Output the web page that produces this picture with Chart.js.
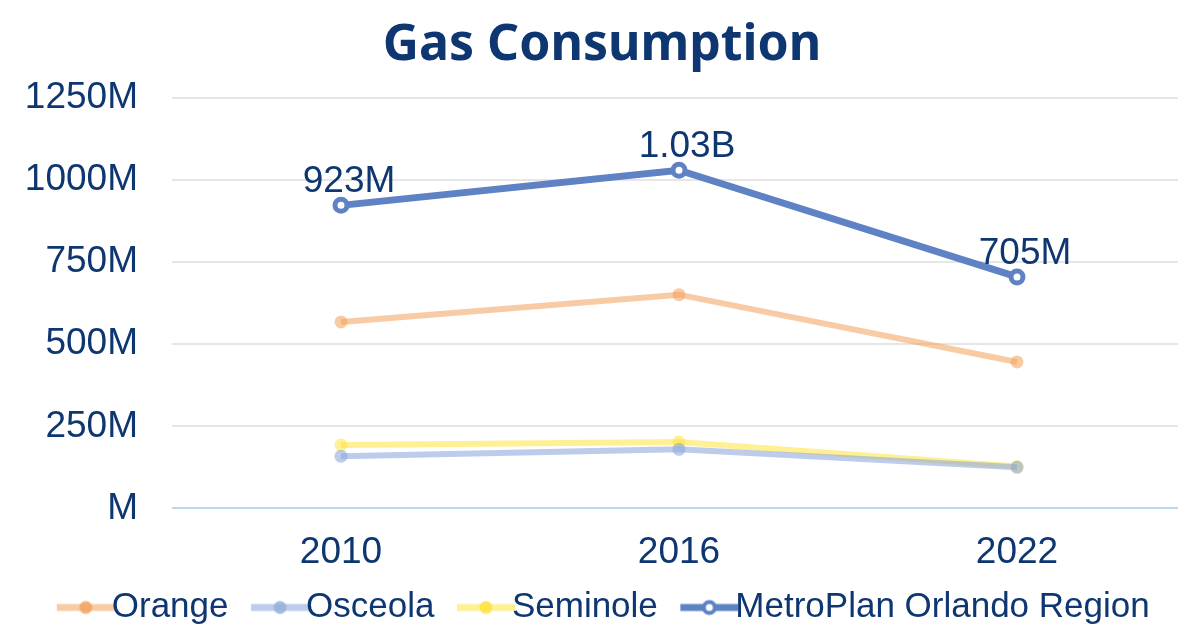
<!DOCTYPE html>
<html>
<head>
<meta charset="utf-8">
<script src="https://cdn.jsdelivr.net/npm/chart.js@4/dist/chart.umd.min.js"></script>
<style>
    html, body { margin: 0; padding: 0; background: #fff; overflow: hidden; }
    #wrap { width: 1197px; height: 642px; }
</style>
</head>
<body>
<div id="wrap"><canvas id="grafico"></canvas></div>
<script>
// valores em milhoes
const years = ["2010", "2016", "2022"];
const orange = [568, 651, 446];
const osceola = [159, 180, 125];
const seminole = [193, 202, 128];
const metroplan = [923, 1030, 705];
const yTicks = [0, 250, 500, 750, 1000, 1250];

const navy = "#0e3670";
const tickFont = "'Liberation Sans', Arial, sans-serif";

// icone da legenda: linha com bolinha (desenhado no lado direito da imagem)
function legendIcon(lineColor, dotColor, hollow) {
    let c = document.createElement("canvas");
    c.width = 81;
    c.height = 20;
    let ctx = c.getContext("2d");
    ctx.strokeStyle = lineColor;
    ctx.lineWidth = 7;
    ctx.beginPath();
    ctx.moveTo(23, 10);
    ctx.lineTo(81, 10);
    ctx.stroke();
    ctx.beginPath();
    ctx.arc(52, 10, hollow ? 5.5 : 6.5, 0, Math.PI * 2);
    if (hollow) {
        ctx.fillStyle = "#fff";
        ctx.fill();
        ctx.lineWidth = 4;
        ctx.strokeStyle = dotColor;
        ctx.stroke();
    } else {
        ctx.fillStyle = dotColor;
        ctx.fill();
    }
    return c;
}

const colors = {
    orange: "rgba(244,160,90,0.55)",
    osceola: "rgba(143,170,220,0.6)",
    seminole: "rgba(255,228,60,0.55)",
    metro: "#5f82c4"
};

const icons = [
    legendIcon(colors.orange, "rgba(240,165,100,0.85)", false),
    legendIcon(colors.osceola, "rgba(150,175,222,0.85)", false),
    legendIcon(colors.seminole, "rgba(255,225,60,0.85)", false),
    legendIcon(colors.metro, colors.metro, true)
];

function fmtValue(v) {
    return v >= 1000 ? (v / 1000).toFixed(2) + "B" : v + "M";
}

// rotulos so da serie MetroPlan
const rotulos = {
    id: "rotulos",
    afterDatasetsDraw(chart) {
        let meta = chart.getDatasetMeta(3);
        let ctx = chart.ctx;
        ctx.save();
        ctx.font = "37px " + tickFont;
        ctx.fillStyle = navy;
        ctx.textAlign = "center";
        ctx.textBaseline = "alphabetic";
        meta.data.forEach((pt, i) => {
            ctx.fillText(fmtValue(metroplan[i]), pt.x + 8, pt.y - 13);
        });
        ctx.restore();
    }
};

new Chart(document.getElementById("grafico"), {
    type: "line",
    data: {
        labels: years,
        datasets: [
            {
                label: "Orange",
                data: orange,
                borderColor: colors.orange,
                backgroundColor: colors.orange,
                borderWidth: 6,
                pointRadius: 6.5,
                pointBorderWidth: 0
            },
            {
                label: "Osceola",
                data: osceola,
                borderColor: colors.osceola,
                backgroundColor: colors.osceola,
                borderWidth: 6,
                pointRadius: 6.5,
                pointBorderWidth: 0
            },
            {
                label: "Seminole",
                data: seminole,
                borderColor: colors.seminole,
                backgroundColor: colors.seminole,
                borderWidth: 6,
                pointRadius: 6.5,
                pointBorderWidth: 0
            },
            {
                label: "MetroPlan Orlando Region",
                data: metroplan,
                borderColor: colors.metro,
                backgroundColor: "#fff",
                borderWidth: 7,
                pointRadius: 6,
                pointBorderWidth: 5
            }
        ]
    },
    options: {
        responsive: true,
        maintainAspectRatio: false,
        animation: false,
        layout: { padding: { left: 8, right: 1, top: 0, bottom: 7 } },
        plugins: {
            title: {
                display: true,
                text: "Gas Consumption",
                color: navy,
                font: { family: "'Noto Sans', sans-serif", size: 50, weight: "bold", lineHeight: 1.2 },
                padding: { top: 16, bottom: 22 }
            },
            legend: {
                display: true,
                position: "bottom",
                labels: {
                    color: navy,
                    font: { family: tickFont, size: 35 },
                    usePointStyle: true,
                    pointStyleWidth: 40,
                    padding: 20,
                    generateLabels(chart) {
                        let items = Chart.defaults.plugins.legend.labels.generateLabels(chart);
                        items.forEach((it) => { it.pointStyle = icons[it.datasetIndex]; });
                        return items;
                    }
                }
            },
            tooltip: { enabled: false }
        },
        scales: {
            x: {
                offset: true,
                grid: { display: false, tickLength: 28 },
                border: { display: false },
                ticks: {
                    color: navy,
                    font: { family: tickFont, size: 37, lineHeight: 0.8 },
                    padding: 2
                }
            },
            y: {
                min: 0,
                max: 1250,
                afterBuildTicks(axis) {
                    axis.ticks = yTicks.map((v) => ({ value: v }));
                },
                afterFit(axis) {
                    axis.width = 164;
                },
                border: { display: false },
                grid: {
                    drawTicks: false,
                    lineWidth: 2,
                    color: (c) => (c.tick && c.tick.value === 0 ? "#bdd7f0" : "#e6e6e6")
                },
                ticks: {
                    color: navy,
                    font: { family: tickFont, size: 37 },
                    padding: 34,
                    callback: (v) => (v === 0 ? "" : v) + "M"
                }
            }
        }
    },
    plugins: [rotulos]
});
</script>
</body>
</html>
